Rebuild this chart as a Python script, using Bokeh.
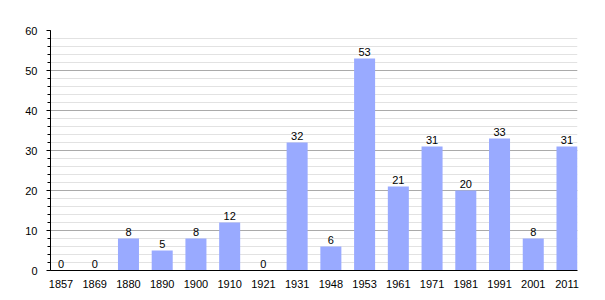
from bokeh.plotting import figure
from bokeh.models import ColumnDataSource, Range1d, FixedTicker, SingleIntervalTicker
from bokeh.core.properties import value
from bokeh.embed import file_html
from bokeh.resources import INLINE

years = ["1857", "1869", "1880", "1890", "1900", "1910", "1921", "1931",
         "1948", "1953", "1961", "1971", "1981", "1991", "2001", "2011"]
population = [0, 0, 8, 5, 8, 12, 0, 32, 6, 53, 21, 31, 20, 33, 8, 31]

xs = list(range(len(years)))
src = ColumnDataSource(data=dict(x=xs, y=population, label=[str(v) for v in population]))

FONT = "Liberation Sans"
bar_w = 0.623

p = figure(width=605, height=300, output_backend="svg", toolbar_location=None,
           x_range=Range1d(-bar_w / 2, len(years) - 1 + bar_w / 2),
           y_range=Range1d(0, 60),
           min_border_left=50, min_border_right=28, min_border_top=30, min_border_bottom=30)
p.outline_line_color = None
p.background_fill_color = "white"
p.border_fill_color = "white"

p.vbar(x="x", top="y", width=bar_w, source=src, fill_color="#99aaff", line_color=None)
p.text(x="x", y="y", text="label", source=src, text_align="center", text_baseline="bottom",
       y_offset=-3, text_font=value(FONT), text_font_size="11px", text_color="#000000")

yt = SingleIntervalTicker(interval=10, num_minor_ticks=5)
p.yaxis.ticker = yt
p.ygrid.ticker = yt
p.ygrid.grid_line_color = "#aaaaaa"
p.ygrid.minor_grid_line_color = "#e2e2e2"
p.xgrid.grid_line_color = None

p.xaxis.ticker = FixedTicker(ticks=xs)
p.xaxis.major_label_overrides = {i: y for i, y in enumerate(years)}
p.xaxis.major_tick_line_color = None
p.xaxis.minor_tick_line_color = None
p.xaxis.major_label_standoff = 3

for ax in (p.xaxis, p.yaxis):
    ax.axis_line_color = "#000000"
    ax.axis_line_width = 1
    ax.major_label_text_font = FONT
    ax.major_label_text_font_size = "11px"
    ax.major_label_text_color = "#000000"

p.yaxis.major_tick_out = 4
p.yaxis.major_tick_in = 0
p.yaxis.minor_tick_out = 3
p.yaxis.minor_tick_in = 0
p.yaxis.major_tick_line_color = "#000000"
p.yaxis.minor_tick_line_color = "#000000"
p.yaxis.major_label_standoff = 9

open("out.html", "w").write(file_html(p, INLINE))
